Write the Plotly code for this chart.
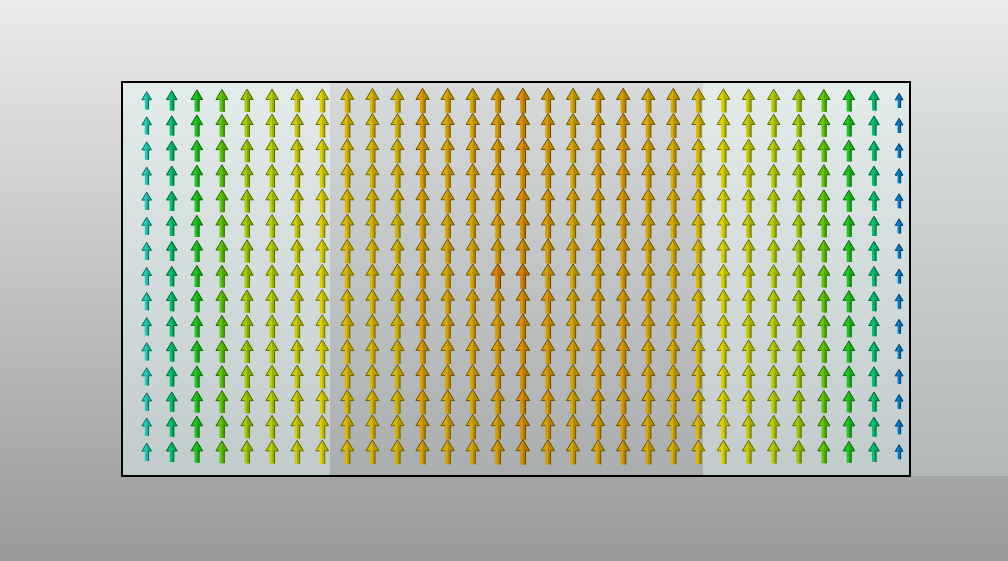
import plotly.graph_objects as go
from plotly.colors import sample_colorscale
import re

# ---------------- data ----------------
n_rows = 15
# vector magnitude per column (left -> right), all vectors point up (+y)
col_speed = [0.71, 0.79, 0.86, 0.89, 0.91, 0.92, 0.93, 0.94, 0.96, 0.965,
             0.97, 0.985, 0.98, 0.98, 0.99, 1.0, 0.99, 0.98, 0.985, 0.99,
             0.98, 0.975, 0.96, 0.94, 0.93, 0.92, 0.91, 0.89, 0.86, 0.785, 0.58]
# individual cells that differ from the column value: (row from top, column) -> speed
cell_speed_overrides = {(7, 14): 1.02, (7, 15): 1.02}

# magnitude -> colour lookup table
speed_stops = [0.55, 0.58, 0.71, 0.785, 0.86, 0.89, 0.91, 0.92, 0.93, 0.94,
               0.96, 0.97, 0.98, 0.99, 1.0, 1.02]
stop_colors = ['#0050c8', '#0080d8', '#1cd0b8', '#00c470', '#1cc81c', '#5ec800',
               '#a0cc00', '#b8d200', '#c8cc00', '#dcd400', '#d8bc00', '#d8b400',
               '#d8a600', '#d89c00', '#d89000', '#d88000']

# ---------------- helpers ----------------
smin, smax = speed_stops[0], speed_stops[-1]
cscale = [[(s - smin) / (smax - smin), c] for s, c in zip(speed_stops, stop_colors)]


def rgb_of(v):
    c = sample_colorscale(cscale, [(v - smin) / (smax - smin)])[0]
    nums = [float(t) for t in re.findall(r"[\d.]+", c)][:3]
    return nums


def rgb_str(nums, f=1.0):
    return 'rgb(%d,%d,%d)' % tuple(max(0, min(255, round(n * f))) for n in nums)


# pixel -> data mapping (grid units: column index / row index from bottom)
X0, DX = 146.7, 25.08
Y0, DY = 452.0, 25.1
W, H = 1008, 561


def px_x(p):
    return (p - X0) / DX


def px_y(p):
    return (Y0 - p) / DY


fig = go.Figure()


def grad_rect(x0, x1, y0, y1, bottom, top):
    fig.add_trace(go.Scatter(
        x=[px_x(x0), px_x(x1), px_x(x1), px_x(x0), px_x(x0)],
        y=[px_y(y1), px_y(y1), px_y(y0), px_y(y0), px_y(y1)],
        mode='lines', line=dict(width=0), fill='toself',
        fillgradient=dict(type='vertical', colorscale=[[0, bottom], [1, top]]),
        hoverinfo='skip', showlegend=False))


# background & box faces
grad_rect(0, W, 0, H, '#999999', '#ebebeb')
grad_rect(910, W, 82, 476, '#b1b8b7', '#dadfdf')
grad_rect(122, 330, 82, 476, '#c2cbcb', '#e3ebeb')
grad_rect(703, 910, 82, 476, '#c2cbcb', '#e3ebeb')
grad_rect(330, 703, 82, 476, '#a9adad', '#d7dada')

# ---------------- arrows ----------------
groups = {}
for r_top in range(n_rows):
    for c, s in enumerate(col_speed):
        v = cell_speed_overrides.get((r_top, c), s)
        groups.setdefault(v, []).append((c, n_rows - 1 - r_top))

for v, cells in groups.items():
    base = rgb_of(v)
    fx, fy, rx, ry, ox, oy = [], [], [], [], [], []
    for cx, cy in cells:
        L = v
        hl, hw, sw = 0.45 * L, 0.27 * L, 0.105 * L
        tip, tail = cy + L / 2, cy - L / 2
        hb = tip - hl
        fx += [cx - sw, cx - sw, cx - hw, cx, cx + hw, cx + sw, cx + sw, cx - sw, None]
        fy += [tail, hb, hb, tip, hb, hb, tail, tail, None]
        rx += [cx, cx + hw, cx + sw, cx + sw, cx, cx, None]
        ry += [tip, hb, hb, tail, tail, tip, None]
        # dark edges: head outline and right side of the shaft
        ox += [cx - sw, cx - hw, cx, cx + hw, cx + sw, cx + sw, None]
        oy += [hb, hb, tip, hb, hb, tail, None]
    fig.add_trace(go.Scatter(x=fx, y=fy, mode='lines', line=dict(width=0),
                             fill='toself', fillcolor=rgb_str(base),
                             hoverinfo='skip', showlegend=False))
    fig.add_trace(go.Scatter(x=rx, y=ry, mode='lines', line=dict(width=0),
                             fill='toself', fillcolor=rgb_str(base, 0.84),
                             hoverinfo='skip', showlegend=False))
    fig.add_trace(go.Scatter(x=ox, y=oy, mode='lines',
                             line=dict(width=1, color=rgb_str(base, 0.5)),
                             hoverinfo='skip', showlegend=False))

# box outline
fig.add_shape(type='rect', x0=px_x(122), x1=px_x(910), y0=px_y(476), y1=px_y(82),
              line=dict(color='black', width=2), layer='above')

fig.update_layout(
    width=W, height=H, margin=dict(l=0, r=0, t=0, b=0),
    paper_bgcolor='#cccccc', plot_bgcolor='#cccccc',
    xaxis=dict(range=[px_x(0), px_x(W)], visible=False, fixedrange=True),
    yaxis=dict(range=[px_y(H), px_y(0)], visible=False, fixedrange=True),
    showlegend=False, hovermode=False,
)

fig.write_html("out.html", config={'displayModeBar': False})
